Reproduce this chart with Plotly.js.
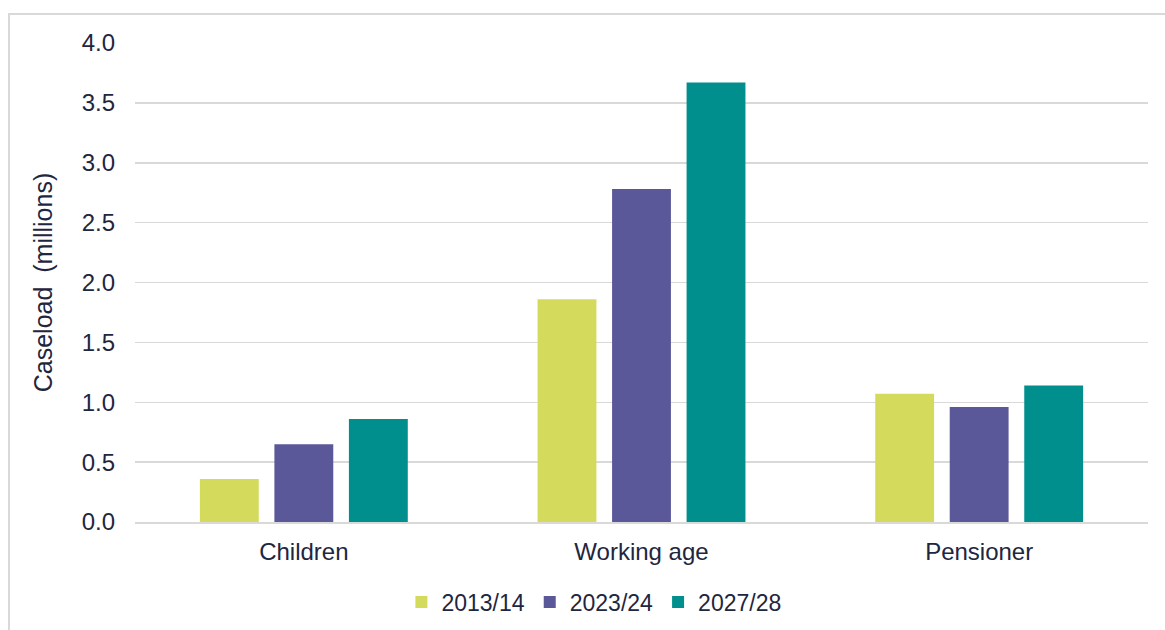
<!DOCTYPE html>
<html>
<head>
<meta charset="utf-8">
<script src="https://cdn.plot.ly/plotly-3.0.1.min.js"></script>
<style>
  html, body { margin: 0; padding: 0; background: #ffffff; }
  #chart { width: 1165px; height: 630px; }
</style>
</head>
<body>
<div id="chart"></div>
<script>
// Caseload by age group (millions)
const groups = ['Children', 'Working age', 'Pensioner'];
const seriesNames = ['2013/14', '2023/24', '2027/28'];
const caseload2013 = [0.36, 1.86, 1.07];
const caseload2023 = [0.65, 2.78, 0.96];
const caseload2027 = [0.86, 3.67, 1.14];
const yTicks = [0, 0.5, 1, 1.5, 2, 2.5, 3, 3.5, 4];
const yTickText = ['0.0', '0.5', '1.0', '1.5', '2.0', '2.5', '3.0', '3.5', '4.0'];

const colours = ['#d4db5c', '#5b5899', '#008f8c'];
const textColour = '#1e2640';
const font = 'Liberation Sans, Arial, sans-serif';

const values = [caseload2013, caseload2023, caseload2027];
const traces = seriesNames.map((name, i) => ({
  type: 'bar',
  name: name,
  x: groups,
  y: values[i],
  marker: { color: colours[i], line: { width: 0 } },
  hoverinfo: 'x+y+name'
}));

const layout = {
  width: 1165,
  height: 630,
  margin: { l: 135, r: 17, t: 43, b: 108, autoexpand: false },
  paper_bgcolor: '#ffffff',
  plot_bgcolor: '#ffffff',
  font: { family: font, size: 24, color: textColour },
  barmode: 'group',
  bargap: 0.338,
  bargroupgap: 0.21,
  showlegend: true,
  legend: {
    orientation: 'h',
    x: 0.453,
    xanchor: 'center',
    yref: 'container',
    y: 28 / 630,
    yanchor: 'middle',
    font: { family: font, size: 23, color: textColour },
    itemclick: false,
    traceorder: 'normal'
  },
  xaxis: {
    type: 'category',
    showgrid: false,
    showline: true,
    linecolor: '#d9d9d9',
    linewidth: 1.5,
    ticks: '',
    ticklabelstandoff: 8,
    tickfont: { family: font, size: 24, color: textColour },
    zeroline: false,
    automargin: false
  },
  yaxis: {
    range: [0, 4],
    tickvals: yTicks,
    ticktext: yTickText,
    showgrid: true,
    gridcolor: '#d9d9d9',
    gridwidth: 1.5,
    zeroline: false,
    showline: false,
    ticks: '',
    ticklabelstandoff: 19,
    tickfont: { family: font, size: 24, color: textColour },
    automargin: false,
    title: {
      text: 'Caseload  (millions)',
      font: { family: font, size: 25, color: textColour },
      standoff: 21
    }
  },
  shapes: [{
    type: 'rect',
    xref: 'paper',
    yref: 'paper',
    x0: (9 - 135) / 1013,
    x1: (1166 - 135) / 1013,
    y0: (522 - 660) / 479,
    y1: (522 - 14) / 479,
    line: { color: '#d9d9d9', width: 2 },
    fillcolor: 'rgba(0,0,0,0)',
    layer: 'below'
  }]
};

Plotly.newPlot('chart', traces, layout, { displayModeBar: false, staticPlot: true });
</script>
</body>
</html>
